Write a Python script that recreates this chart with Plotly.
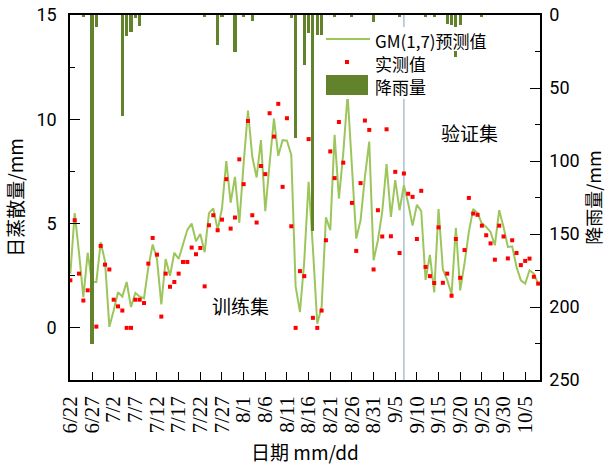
import pandas as pd
import plotly.graph_objects as go

# ---------------- data ----------------
start_date = "2023-06-22"
n_days = 109
dates = pd.date_range(start_date, periods=n_days, freq="D")

predicted = [
    2.6, 5.5, 3.6, 1.47, 3.6, 2.2, 2.2, 4.1, 3.2, 0.05,
    0.83, 1.71, 1.5, 2.2, 1.0, 1.67, 1.5, 1.42, 2.9, 4.0,
    3.3, 1.12, 3.3, 2.5, 3.6, 3.3, 4.0, 4.7, 5.0, 4.15,
    4.5, 3.63, 5.5, 5.73, 4.7, 5.72, 8.0, 6.0, 7.24, 5.03,
    7.88, 10.42, 8.2, 7.21, 9.0, 5.59, 7.88, 10.03, 8.25, 9.0,
    8.97, 8.29, 2.0, 0.75, 3.2, 7.0, 3.8, 0.2, 1.0, 5.3,
    4.68, 9.25, 6.2, 8.37, 11.2, 7.72, 4.28, 5.16, 7.24, 8.93,
    3.24, 4.2, 5.56, 7.85, 5.32, 7.08, 5.64, 6.84, 5.96, 4.9,
    5.9, 5.6, 2.3, 3.5, 1.7, 5.7, 2.8, 2.3, 1.6, 4.8,
    1.8, 3.1, 4.6, 5.7, 5.5, 5.0, 4.84, 4.6, 3.96, 5.64,
    4.84, 3.88, 3.91, 2.92, 2.28, 2.12, 2.76, 2.6, 2.12,
]

observed = [
    2.28, 5.16, 2.6, 1.31, 1.8, None, 0.06, 3.93, 3.03, 2.8,
    1.35, 1.03, 0.83, 0.0, 0.0, 1.35, 1.35, 1.19, 3.08, 4.31,
    3.51, 0.54, 2.6, 1.97, 2.2, 2.6, 3.16, 3.16, 3.85, 3.53,
    3.83, 1.99, 4.92, 5.4, 4.68, 5.19, 7.13, 4.76, 5.29, 8.08,
    6.89, 9.92, 5.4, 5.05, 7.76, 7.37, 10.29, 9.17, 10.74, 6.76,
    10.05, 4.87, 0.0, 2.72, 2.48, 9.05, 0.48, 0.0, 0.83, 4.2,
    8.46, 7.18, 9.87, 7.92, 12.8, 5.99, 3.69, 6.94, 9.94, 9.49,
    2.8, 5.64, 4.38, 9.52, 4.39, 7.48, 3.59, 7.4, 6.43, 6.28,
    4.26, 6.57, 2.92, 2.48, 2.15, 4.82, 2.16, 2.6, 1.54, 4.26,
    2.4, 3.73, 6.23, 5.48, 5.42, 4.9, 4.44, 4.05, 3.27, 4.9,
    4.38, 3.33, 4.2, 3.59, 3.01, 3.21, 3.32, 2.45, 2.12,
]

rain_dates = [
    "2023-06-25", "2023-06-27", "2023-06-28", "2023-07-04", "2023-07-05",
    "2023-07-06", "2023-07-07", "2023-07-08", "2023-07-23", "2023-07-26",
    "2023-07-27", "2023-07-30", "2023-08-01", "2023-08-03", "2023-08-12",
    "2023-08-13", "2023-08-15", "2023-08-16", "2023-08-17", "2023-08-18",
    "2023-08-19", "2023-08-22", "2023-08-26", "2023-08-31", "2023-09-06",
    "2023-09-12", "2023-09-14", "2023-09-17", "2023-09-18", "2023-09-19",
    "2023-09-20", "2023-09-25",
]
rain_mm = [
    1.0, 225, 8.4, 69, 14.4,
    11.4, 2.3, 7.5, 1.6, 20.5,
    0.8, 25.6, 1.1, 3.9, 2.3,
    84, 34, 12.5, 148, 13.5,
    14, 1.0, 1.0, 4.6, 1.0,
    1.6, 1.0, 6.5, 7.0, 29,
    7.0, 1.0,
]

split_date = "2023-09-07"
et_ticks = [0, 5, 10, 15]
rain_ticks = [0, 50, 100, 150, 200, 250]

# ---------------- style ----------------
LINE_C = "#9cc65c"
BAR_C = "#62832c"
DOT_C = "#ff0000"
CJK = "Noto Sans CJK SC"
NUM = "Liberation Sans Narrow, Roboto, Liberation Sans, sans-serif"
SERIF = "Liberation Serif, DejaVu Serif, serif"

W, H = 610, 468
ML, MR, MT, MB = 70, 70, 15, 88
PW, PH = W - ML - MR, H - MT - MB


def px(x):
    return (x - ML) / PW


def py(y):
    return (H - MB - y) / PH


DAY = 86400000
t0 = pd.Timestamp(start_date)

fig = go.Figure()
fig.add_trace(go.Scatter(
    x=dates, y=predicted, mode="lines", name="GM(1,7)预测值",
    line=dict(color=LINE_C, width=2), showlegend=False, yaxis="y"))
fig.add_trace(go.Scatter(
    x=dates, y=observed, mode="markers", name="实测值",
    marker=dict(symbol="square", size=4, color=DOT_C), showlegend=False, yaxis="y"))
fig.add_trace(go.Bar(
    x=pd.to_datetime(rain_dates), y=rain_mm, name="降雨量", yaxis="y2",
    marker=dict(color=BAR_C, line=dict(width=0)), width=0.72 * DAY, showlegend=False))

shapes = [
    dict(type="line", xref="x", yref="paper", x0=split_date, x1=split_date, y0=0, y1=1,
         line=dict(color="#a9c0cf", width=1.5), layer="below"),
    # legend backgrounds
    dict(type="rect", xref="paper", yref="paper", x0=px(324), x1=px(528), y0=py(51), y1=py(27),
         fillcolor="white", line=dict(width=0), layer="above"),
    dict(type="rect", xref="paper", yref="paper", x0=px(324), x1=px(445), y0=py(99), y1=py(51),
         fillcolor="white", line=dict(width=0), layer="above"),
    # legend symbols
    dict(type="line", xref="paper", yref="paper", x0=px(326), x1=px(370), y0=py(39), y1=py(39),
         line=dict(color=LINE_C, width=2), layer="above"),
    dict(type="rect", xref="paper", yref="paper", x0=px(345), x1=px(349), y0=py(64), y1=py(60),
         fillcolor=DOT_C, line=dict(width=0), layer="above"),
    dict(type="rect", xref="paper", yref="paper", x0=px(326), x1=px(368), y0=py(95), y1=py(75),
         fillcolor=BAR_C, line=dict(width=0), layer="above"),
]

leg_font = dict(family=CJK, size=17, color="black")
annotations = [
    dict(text="GM(1,7)预测值", x=px(374), y=py(40), xref="paper", yref="paper", borderpad=0,
         xanchor="left", yanchor="middle", showarrow=False, font=leg_font),
    dict(text="实测值", x=px(374), y=py(63), xref="paper", yref="paper", borderpad=0,
         xanchor="left", yanchor="middle", showarrow=False, font=leg_font),
    dict(text="降雨量", x=px(374), y=py(87), xref="paper", yref="paper", borderpad=0,
         xanchor="left", yanchor="middle", showarrow=False, font=leg_font),
    dict(text="训练集", x=px(240), y=py(305), xref="paper", yref="paper",
         xanchor="center", yanchor="middle", showarrow=False, font=dict(family=CJK, size=19, color="black")),
    dict(text="验证集", x=px(469), y=py(132), xref="paper", yref="paper",
         xanchor="center", yanchor="middle", showarrow=False, font=dict(family=CJK, size=19, color="black")),
]

fig.update_layout(
    width=W, height=H,
    margin=dict(l=ML, r=MR, t=MT, b=MB, autoexpand=False),
    paper_bgcolor="white", plot_bgcolor="white",
    showlegend=False,
    bargap=0,
    shapes=shapes,
    annotations=annotations,
    xaxis=dict(
        type="date", automargin=False,
        range=[t0 - pd.Timedelta(hours=2), t0 + pd.Timedelta(days=108.42)],
        tick0=start_date, dtick=5 * DAY, tickformat="%-m/%-d",
        tickangle=-90, ticks="inside", ticklen=8, tickwidth=1.2, tickcolor="black",
        showline=True, linecolor="black", linewidth=1.5, mirror=True,
        showgrid=False, zeroline=False,
        tickfont=dict(family=SERIF, size=21, color="black"),
        ticklabelstandoff=6,
        title=dict(text="日期 mm/dd", font=dict(family=CJK, size=19, color="black"), standoff=14),
    ),
    yaxis=dict(
        range=[-2.5, 15], tickvals=et_ticks, automargin=False,
        ticks="inside", ticklen=10, tickwidth=1.2, tickcolor="black",
        minor=dict(dtick=2.5, tick0=0, ticks="inside", ticklen=5, tickcolor="black", tickwidth=1.2),
        showline=True, linecolor="black", linewidth=1.5,
        showgrid=False, zeroline=False,
        tickfont=dict(family=NUM, size=18, color="black"),
        ticklabelstandoff=8,
        title=dict(text="日蒸散量/mm", font=dict(family=CJK, size=19, color="black"), standoff=8),
    ),
    yaxis2=dict(
        overlaying="y", side="right", range=[250, 0], tickvals=rain_ticks, automargin=False,
        ticks="inside", ticklen=10, tickwidth=1.2, tickcolor="black",
        minor=dict(dtick=25, tick0=0, ticks="inside", ticklen=5, tickcolor="black", tickwidth=1.2),
        showline=True, linecolor="black", linewidth=1.5,
        showgrid=False, zeroline=False,
        tickfont=dict(family=NUM, size=18, color="black"),
        ticklabelstandoff=4,
        title=dict(text="降雨量/mm", font=dict(family=CJK, size=18, color="black"), standoff=4),
    ),
)

fig.write_html("out.html", config={"displayModeBar": False},
               post_script="document.body.style.margin='0';")
